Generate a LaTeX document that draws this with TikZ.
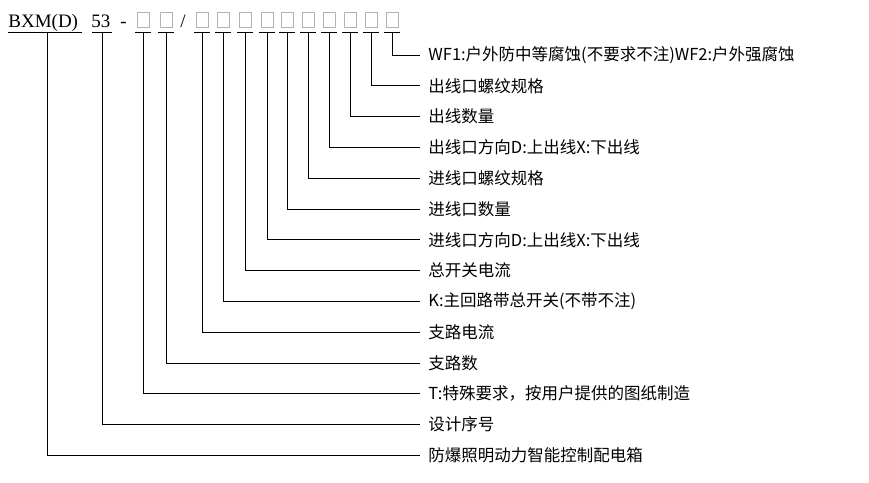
\documentclass[tikz,border=0pt]{standalone}
\usepackage{fontspec}
\setmainfont{Liberation Serif}
\newfontfamily\cjk{Noto Sans CJK SC}
\begin{document}
\begin{tikzpicture}[x=1pt,y=-1pt,line width=0.8pt,
  lbl/.style={anchor=west,font=\cjk\fontsize{16.5}{18}\selectfont,inner sep=0pt},
  sq/.style={draw=gray!60,line width=0.7pt,minimum width=12pt,minimum height=15pt,inner sep=0pt}]
\useasboundingbox (0,0) rectangle (869,482);
\node[anchor=base west,inner sep=0pt,font=\fontsize{19}{21}\selectfont] (bxm) at (8,27) {BXM(D)};
\node[anchor=base west,inner sep=0pt,font=\fontsize{19}{21}\selectfont] (n53) at (91,27) {53};
\node[anchor=base west,inner sep=0pt,font=\fontsize{19}{21}\selectfont] (dash) at (120,27) {-};
\node[anchor=base west,inner sep=0pt,font=\fontsize{19}{21}\selectfont] (sl) at (180,27) {/};
\draw (8,32) -- (82,32);
\draw (92,32) -- (112,32);
\foreach \i/\x in {1/143,2/166,3/202,4/223,5/245,6/267,7/287,8/308,9/329,10/350,11/371,12/392}{
  \node[sq] (b\i) at (\x,19.5) {};
  \draw (\x-8,32) -- (\x+8,32);
}
\foreach \r/\x/\t in {
0/392/{WF1:户外防中等腐蚀(不要求不注)WF2:户外强腐蚀},
1/371/{出线口螺纹规格},
2/350/{出线数量},
3/329/{出线口方向D:上出线X:下出线},
4/308/{进线口螺纹规格},
5/287/{进线口数量},
6/267/{进线口方向D:上出线X:下出线},
7/245/{总开关电流},
8/223/{K:主回路带总开关(不带不注)},
9/202/{支路电流},
10/166/{支路数},
11/143/{T:特殊要求，按用户提供的图纸制造},
12/102/{设计序号},
13/47/{防爆照明动力智能控制配电箱}}{
  \pgfmathsetmacro\yy{55+30.8*\r}
  \coordinate (t\r) at (\x,32);
  \coordinate (c\r) at (\x,\yy);
  \node[lbl] (l\r) at (428,\yy) {\t};
  \draw (t\r) -- (c\r) -- (l\r.west -| 420,0);
}
\end{tikzpicture}
\end{document}
